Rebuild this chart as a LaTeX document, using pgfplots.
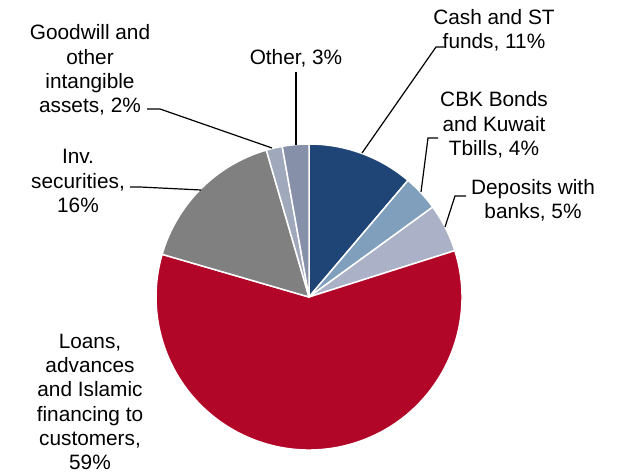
\documentclass[border=0pt]{standalone}
\usepackage{pgfplots}
\usepackage{pgfplotstable}
\pgfplotsset{compat=1.18}
\usepackage{fontspec}
\setmainfont{Liberation Sans}

\definecolor{cashc}{HTML}{1F4476}
\definecolor{cbkc}{HTML}{7F9FBD}
\definecolor{depc}{HTML}{ABB1C6}
\definecolor{loanc}{HTML}{B20628}
\definecolor{invc}{HTML}{808080}
\definecolor{gwc}{HTML}{A0A8BC}
\definecolor{othc}{HTML}{8690A8}

% shares in %, clockwise from 12 o'clock
\pgfplotstableread{
value col
11.2 cashc
3.8  cbkc
5.1  depc
59.4 loanc
16.0 invc
1.7  gwc
2.8  othc
}\piedata

\begin{document}
\begin{tikzpicture}[font=\fontsize{20.8bp}{24.2bp}\selectfont]
\begin{axis}[
    width=625bp, height=475bp, scale only axis,
    xmin=0, xmax=625, ymin=0, ymax=475,
    hide axis, clip=false]
  \def\cum{0}
  \pgfplotsforeachungrouped \i in {0,...,6} {%
    \pgfplotstablegetelem{\i}{value}\of\piedata \let\val\pgfplotsretval
    \pgfplotstablegetelem{\i}{col}\of\piedata \let\slicecol\pgfplotsretval
    \pgfmathsetmacro\sa{90-3.6*\cum}
    \pgfmathsetmacro\ea{90-3.6*(\cum+\val)}
    \edef\temp{\noexpand\filldraw[fill=\slicecol, draw=white, line width=1.5bp]
      (axis cs:309,178) -- ++(\sa:153bp) arc[start angle=\sa, end angle=\ea, radius=153bp] -- cycle;}
    \temp
    \pgfmathsetmacro\cum{\cum+\val}
  }

  % labels
  \node[align=center] at (axis cs:494,445) {Cash and ST\\funds, 11\%};
  \node[align=center] at (axis cs:494,350) {CBK Bonds\\and Kuwait\\Tbills, 4\%};
  \node[align=center] at (axis cs:533,275) {Deposits with\\banks, 5\%};
  \node[align=center] at (axis cs:296,417) {Other, 3\%};
  \node[align=center] at (axis cs:90,405) {Goodwill and\\other\\intangible\\assets, 2\%};
  \node[align=center] at (axis cs:78,294) {Inv.\\securities,\\16\%};
  \node[align=center] at (axis cs:90,073) {Loans,\\advances\\and Islamic\\financing to\\customers,\\59\%};

  % leader lines
  \draw[line width=1.2bp] (axis cs:444,428) -- (axis cs:436,428) -- (axis cs:362,322);
  \draw[line width=1.2bp] (axis cs:438,337) -- (axis cs:428,337) -- (axis cs:421,283);
  \draw[line width=1.2bp] (axis cs:466,279) -- (axis cs:455,279) -- (axis cs:445,248);
  \draw[line width=1.2bp] (axis cs:296,403) -- (axis cs:296,330);
  \draw[line width=1.2bp] (axis cs:147,366) -- (axis cs:160,366) -- (axis cs:272,327);
  \draw[line width=1.2bp] (axis cs:130,288) -- (axis cs:140,288) -- (axis cs:201,285);
\end{axis}
\path (current axis.south west) rectangle (current axis.north east);
\end{tikzpicture}
\end{document}
